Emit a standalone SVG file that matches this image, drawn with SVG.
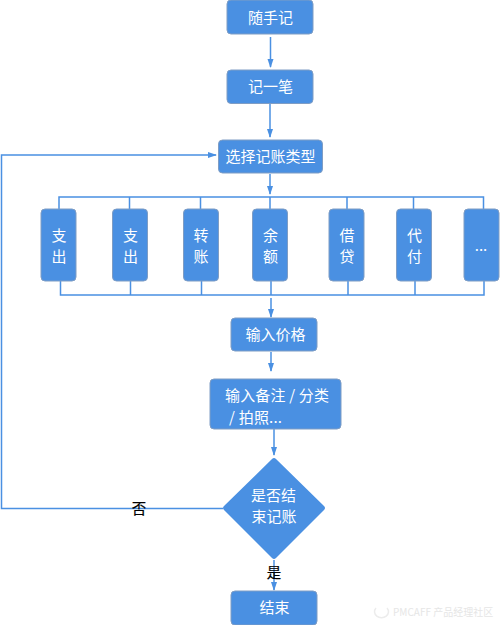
<svg xmlns="http://www.w3.org/2000/svg" width="500" height="625" viewBox="0 0 500 625">
<style>
text{font-family:"Noto Sans CJK SC","Liberation Sans",sans-serif}
.n{fill:#4a90e2;stroke:#7f9dc4;stroke-width:1}
.t{fill:#fff;font-size:15px;text-anchor:middle}
.l{fill:#fff;font-size:15px}
.c{fill:none;stroke:#4a90e2;stroke-width:1.5}
.k{fill:#000;font-size:14.500px;text-anchor:middle;stroke:#000;stroke-width:.2}
</style>
<defs><marker id="a" markerWidth="10" markerHeight="8" refX="8" refY="4" orient="auto" markerUnits="userSpaceOnUse"><path d="M0 1L9 4L0 7Z" fill="#4a90e2"/></marker></defs>
<rect width="500" height="625" fill="#fff"/>
<g id="connectors">
<path class="c" marker-end="url(#a)" d="M270.500 37V67"/>
<path class="c" marker-end="url(#a)" d="M270 104V137"/>
<path class="c" marker-end="url(#a)" d="M270 174V194"/>
<path class="c" d="M59 209V197H483.500V209M129.500 197V209M200.500 197V209M270 197V209M347 197V209M413.500 197V209"/>
<path class="c" d="M60.500 281V295H484V281M130.500 281V295M201.500 281V295M271 281V295M348 281V295M415 281V295"/>
<path class="c" marker-end="url(#a)" d="M271 298V317"/>
<path class="c" marker-end="url(#a)" d="M271 352V371"/>
<path class="c" marker-end="url(#a)" d="M274 429V455"/>
<path class="c" marker-end="url(#a)" d="M274 560V590"/>
<path class="c" marker-end="url(#a)" d="M223 508.500H1.500V155H216"/>
</g>
<g id="n1"><rect class="n" x="227" y="0" width="86" height="34" rx="4"/><text class="t" x="270.500" y="22.500">随手记</text></g>
<g id="n2"><rect class="n" x="227" y="70" width="86" height="33.500" rx="4"/><text class="t" x="270.500" y="92">记一笔</text></g>
<g id="n3"><rect class="n" x="218.500" y="140" width="104" height="33" rx="4"/><text class="t" x="270.500" y="161.500">选择记账类型</text></g>
<g id="b1"><rect class="n" x="41" y="209" width="35" height="72" rx="4"/><text class="t" x="59" y="241">支</text><text class="t" x="59" y="262">出</text></g>
<g id="b2"><rect class="n" x="112.500" y="209" width="35" height="72" rx="4"/><text class="t" x="130.500" y="241">支</text><text class="t" x="130.500" y="262">出</text></g>
<g id="b3"><rect class="n" x="183.500" y="209" width="35" height="72" rx="4"/><text class="t" x="201" y="241">转</text><text class="t" x="201" y="262">账</text></g>
<g id="b4"><rect class="n" x="252.500" y="209" width="35" height="72" rx="4"/><text class="t" x="270.500" y="241">余</text><text class="t" x="270.500" y="262">额</text></g>
<g id="b5"><rect class="n" x="329" y="209" width="35" height="72" rx="4"/><text class="t" x="347" y="241">借</text><text class="t" x="347" y="262">贷</text></g>
<g id="b6"><rect class="n" x="396.500" y="209" width="35" height="72" rx="4"/><text class="t" x="414.500" y="241">代</text><text class="t" x="414.500" y="262">付</text></g>
<g id="b7"><rect class="n" x="464" y="209" width="35" height="72" rx="4"/><text class="t" x="481" y="251">...</text></g>
<g id="n4"><rect class="n" x="231" y="318" width="86" height="33" rx="4"/><text class="t" x="275.500" y="339.500">输入价格</text></g>
<g id="n5"><rect class="n" x="210" y="379" width="131" height="50" rx="4"/><text class="l" x="225" y="401" textLength="104">输入备注 / 分类</text><text class="l" x="229" y="423" textLength="53">/ 拍照...</text></g>
<g id="n6"><path d="M272 459Q274 457 276 459L324 506Q326 508 324 510L276 558Q274 560 272 558L224 510Q222 508 224 506Z" fill="#4a90e2"/><text class="t" x="273.500" y="500.500">是否结</text><text class="t" x="274" y="522">束记账</text></g>
<g id="n7"><rect class="n" x="231" y="591" width="86" height="34" rx="4"/><text class="t" x="274.500" y="612.500">结束</text></g>
<g id="labels"><text class="k" x="139" y="514">否</text><text class="k" x="274" y="578">是</text></g>
<g id="watermark"><text x="393" y="616" font-size="10" fill="#e6e6e6">PMCAFF 产品经理社区</text><path d="M376 608a7 6 0 1 0 11 0" fill="none" stroke="#ececec" stroke-width="1.500"/></g>
</svg>
